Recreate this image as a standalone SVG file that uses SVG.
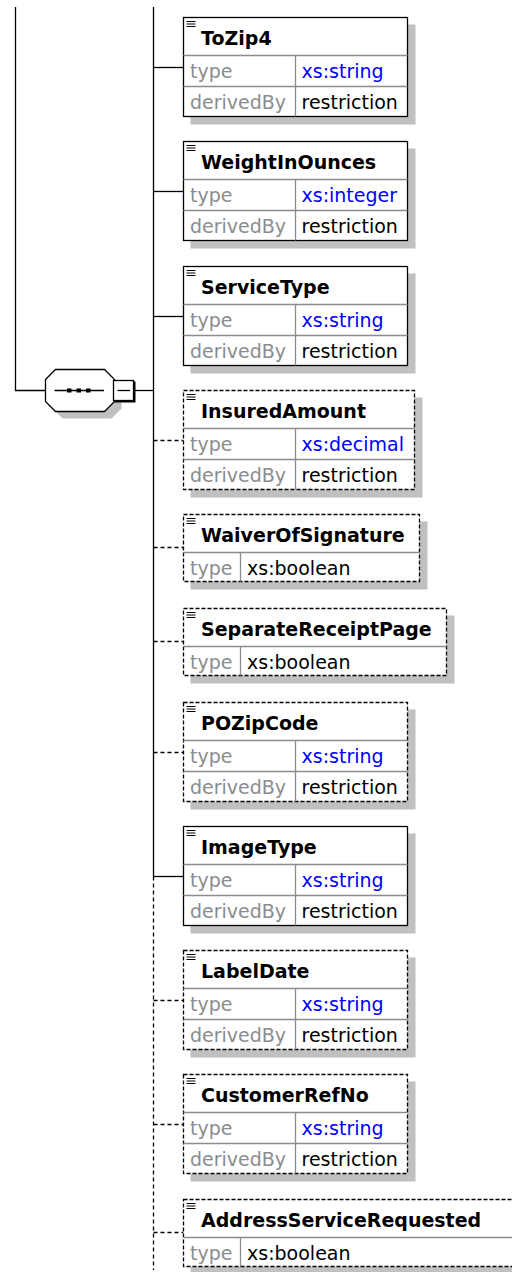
<svg xmlns="http://www.w3.org/2000/svg" width="512" height="1272" viewBox="0 0 512 1272">
<style>
.bg{fill:#fff}
.sh{fill:#c0c0c0}
.box{fill:#fff;stroke:#000;stroke-width:1.3}
.opt{stroke-dasharray:4 2}
.sep{stroke:#8c8c8c;stroke-width:1.3;fill:none}
.ic{stroke:#000;stroke-width:1}
.nm{font-family:"DejaVu Sans",Verdana,sans-serif;font-weight:bold;font-size:19px;fill:#000}
.lb{font-family:"DejaVu Sans",Verdana,sans-serif;font-size:19px;fill:#8c8c8c}
.vl{font-family:"DejaVu Sans",Verdana,sans-serif;font-size:19px;fill:#000}
.ln{font-family:"DejaVu Sans",Verdana,sans-serif;font-size:19px;fill:#0000ff}
.c{stroke:#000;stroke-width:1.3;fill:none}
.cd{stroke:#000;stroke-width:1.3;fill:none;stroke-dasharray:4 3}
</style>
<rect class="bg" x="0" y="0" width="512" height="1272"/>

<g id="connectors">
<path class="c" d="M15.5,7 V390.5 H45.5"/>
<path class="c" d="M134,390.5 H153.5"/>
<path class="c" d="M153.5,7 V876.5"/>
<path class="cd" d="M153.5,876.5 V1270"/>
<path class="c" d="M153.5,67.5 H183.5"/>
<path class="c" d="M153.5,191.5 H183.5"/>
<path class="c" d="M153.5,316.5 H183.5"/>
<path class="cd" d="M153.5,440.5 H183.5"/>
<path class="cd" d="M153.5,547.5 H183.5"/>
<path class="cd" d="M153.5,641.5 H183.5"/>
<path class="cd" d="M153.5,752.5 H183.5"/>
<path class="c" d="M153.5,876.5 H183.5"/>
<path class="cd" d="M153.5,1000.5 H183.5"/>
<path class="cd" d="M153.5,1124.5 H183.5"/>
<path class="cd" d="M153.5,1232.5 H183.5"/>
</g>

<g id="sequence">
<polygon class="sh" points="52.5,386.5 62.5,376.5 111.5,376.5 121.5,386.5 121.5,408.5 111.5,418.5 62.5,418.5 52.5,408.5"/>
<polygon fill="#fff" stroke="#000" stroke-width="1.3" points="45.5,379.5 55.5,369.5 104.5,369.5 114.5,379.5 114.5,401.5 104.5,411.5 55.5,411.5 45.5,401.5"/>
<path class="c" d="M54.5,390.5 H104"/>
<rect x="67" y="388.5" width="4.5" height="4" fill="#000"/>
<rect x="76.5" y="388.5" width="4.5" height="4" fill="#000"/>
<rect x="86" y="388.5" width="4.5" height="4" fill="#000"/>
<rect x="114.5" y="381.5" width="21" height="21" fill="#000"/>
<rect x="113.5" y="380.5" width="20" height="20" fill="#fff" stroke="#000" stroke-width="1.3"/>
<path class="c" d="M117.5,390.5 H130"/>
</g>

<g id="ToZip4">
<rect class="sh" x="190.5" y="24.5" width="225" height="100"/>
<rect class="box" x="183.5" y="17.5" width="224" height="99"/>
<path class="sep" d="M183.5,55.5 H407.5 M183.5,86.5 H407.5 M295.5,55.5 V116.5"/>
<path class="ic" d="M186.5,21.5 H195.5 M186.5,24 H195.5 M186.5,26.5 H195.5"/>
<text class="nm" x="201" y="44.5">ToZip4</text>
<text class="lb" x="190" y="78">type</text>
<text class="ln" x="301.5" y="78">xs:string</text>
<text class="lb" x="190" y="108.5">derivedBy</text>
<text class="vl" x="301.5" y="108.5">restriction</text>
</g>

<g id="WeightInOunces">
<rect class="sh" x="190.5" y="148.5" width="225" height="100"/>
<rect class="box" x="183.5" y="141.5" width="224" height="99"/>
<path class="sep" d="M183.5,179.5 H407.5 M183.5,210.5 H407.5 M295.5,179.5 V240.5"/>
<path class="ic" d="M186.5,145.5 H195.5 M186.5,148 H195.5 M186.5,150.5 H195.5"/>
<text class="nm" x="201" y="168.5">WeightInOunces</text>
<text class="lb" x="190" y="202">type</text>
<text class="ln" x="301.5" y="202">xs:integer</text>
<text class="lb" x="190" y="232.5">derivedBy</text>
<text class="vl" x="301.5" y="232.5">restriction</text>
</g>

<g id="ServiceType">
<rect class="sh" x="190.5" y="273.5" width="225" height="100"/>
<rect class="box" x="183.5" y="266.5" width="224" height="99"/>
<path class="sep" d="M183.5,304.5 H407.5 M183.5,335.5 H407.5 M295.5,304.5 V365.5"/>
<path class="ic" d="M186.5,270.5 H195.5 M186.5,273 H195.5 M186.5,275.5 H195.5"/>
<text class="nm" x="201" y="293.5">ServiceType</text>
<text class="lb" x="190" y="327">type</text>
<text class="ln" x="301.5" y="327">xs:string</text>
<text class="lb" x="190" y="357.5">derivedBy</text>
<text class="vl" x="301.5" y="357.5">restriction</text>
</g>

<g id="InsuredAmount">
<rect class="sh" x="190.5" y="397.5" width="232" height="100"/>
<rect class="box opt" x="183.5" y="390.5" width="231" height="99"/>
<path class="sep" d="M183.5,428.5 H414.5 M183.5,459.5 H414.5 M295.5,428.5 V489.5"/>
<path class="ic" d="M186.5,394.5 H195.5 M186.5,397 H195.5 M186.5,399.5 H195.5"/>
<text class="nm" x="201" y="417.5">InsuredAmount</text>
<text class="lb" x="190" y="451">type</text>
<text class="ln" x="301.5" y="451">xs:decimal</text>
<text class="lb" x="190" y="481.5">derivedBy</text>
<text class="vl" x="301.5" y="481.5">restriction</text>
</g>

<g id="WaiverOfSignature">
<rect class="sh" x="190.5" y="521.5" width="237" height="68"/>
<rect class="box opt" x="183.5" y="514.5" width="236" height="67"/>
<path class="sep" d="M183.5,552.5 H419.5 M240.5,552.5 V581.5"/>
<path class="ic" d="M186.5,518.5 H195.5 M186.5,521 H195.5 M186.5,523.5 H195.5"/>
<text class="nm" x="201" y="541.5">WaiverOfSignature</text>
<text class="lb" x="190" y="575">type</text>
<text class="vl" x="247" y="575">xs:boolean</text>
</g>

<g id="SeparateReceiptPage">
<rect class="sh" x="190.5" y="615.5" width="264" height="68"/>
<rect class="box opt" x="183.5" y="608.5" width="263" height="67"/>
<path class="sep" d="M183.5,646.5 H446.5 M240.5,646.5 V675.5"/>
<path class="ic" d="M186.5,612.5 H195.5 M186.5,615 H195.5 M186.5,617.5 H195.5"/>
<text class="nm" x="201" y="635.5">SeparateReceiptPage</text>
<text class="lb" x="190" y="669">type</text>
<text class="vl" x="247" y="669">xs:boolean</text>
</g>

<g id="POZipCode">
<rect class="sh" x="190.5" y="709.5" width="225" height="100"/>
<rect class="box opt" x="183.5" y="702.5" width="224" height="99"/>
<path class="sep" d="M183.5,740.5 H407.5 M183.5,771.5 H407.5 M295.5,740.5 V801.5"/>
<path class="ic" d="M186.5,706.5 H195.5 M186.5,709 H195.5 M186.5,711.5 H195.5"/>
<text class="nm" x="201" y="729.5">POZipCode</text>
<text class="lb" x="190" y="763">type</text>
<text class="ln" x="301.5" y="763">xs:string</text>
<text class="lb" x="190" y="793.5">derivedBy</text>
<text class="vl" x="301.5" y="793.5">restriction</text>
</g>

<g id="ImageType">
<rect class="sh" x="190.5" y="833.5" width="225" height="100"/>
<rect class="box" x="183.5" y="826.5" width="224" height="99"/>
<path class="sep" d="M183.5,864.5 H407.5 M183.5,895.5 H407.5 M295.5,864.5 V925.5"/>
<path class="ic" d="M186.5,830.5 H195.5 M186.5,833 H195.5 M186.5,835.5 H195.5"/>
<text class="nm" x="201" y="853.5">ImageType</text>
<text class="lb" x="190" y="887">type</text>
<text class="ln" x="301.5" y="887">xs:string</text>
<text class="lb" x="190" y="917.5">derivedBy</text>
<text class="vl" x="301.5" y="917.5">restriction</text>
</g>

<g id="LabelDate">
<rect class="sh" x="190.5" y="957.5" width="225" height="100"/>
<rect class="box opt" x="183.5" y="950.5" width="224" height="99"/>
<path class="sep" d="M183.5,988.5 H407.5 M183.5,1019.5 H407.5 M295.5,988.5 V1049.5"/>
<path class="ic" d="M186.5,954.5 H195.5 M186.5,957 H195.5 M186.5,959.5 H195.5"/>
<text class="nm" x="201" y="977.5">LabelDate</text>
<text class="lb" x="190" y="1011">type</text>
<text class="ln" x="301.5" y="1011">xs:string</text>
<text class="lb" x="190" y="1041.5">derivedBy</text>
<text class="vl" x="301.5" y="1041.5">restriction</text>
</g>

<g id="CustomerRefNo">
<rect class="sh" x="190.5" y="1081.5" width="225" height="100"/>
<rect class="box opt" x="183.5" y="1074.5" width="224" height="99"/>
<path class="sep" d="M183.5,1112.5 H407.5 M183.5,1143.5 H407.5 M295.5,1112.5 V1173.5"/>
<path class="ic" d="M186.5,1078.5 H195.5 M186.5,1081 H195.5 M186.5,1083.5 H195.5"/>
<text class="nm" x="201" y="1101.5">CustomerRefNo</text>
<text class="lb" x="190" y="1135">type</text>
<text class="ln" x="301.5" y="1135">xs:string</text>
<text class="lb" x="190" y="1165.5">derivedBy</text>
<text class="vl" x="301.5" y="1165.5">restriction</text>
</g>

<g id="AddressServiceRequested">
<rect class="sh" x="190.5" y="1206.5" width="337" height="68"/>
<rect class="box opt" x="183.5" y="1199.5" width="336" height="67"/>
<path class="sep" d="M183.5,1237.5 H519.5 M240.5,1237.5 V1266.5"/>
<path class="ic" d="M186.5,1203.5 H195.5 M186.5,1206 H195.5 M186.5,1208.5 H195.5"/>
<text class="nm" x="201" y="1226.5">AddressServiceRequested</text>
<text class="lb" x="190" y="1260">type</text>
<text class="vl" x="247" y="1260">xs:boolean</text>
</g>
</svg>
